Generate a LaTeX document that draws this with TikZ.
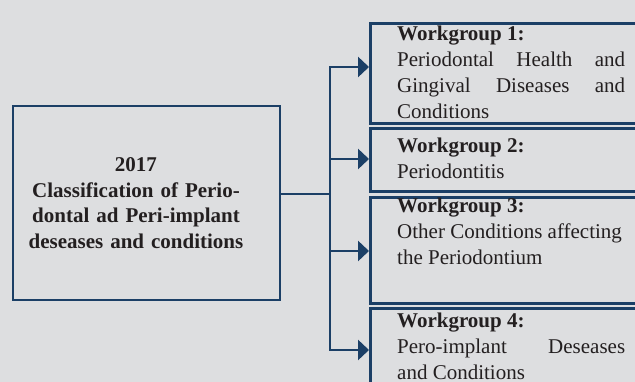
\documentclass[tikz,border=0pt]{standalone}
\usepackage{fontspec}
\setmainfont{Liberation Serif}
\usetikzlibrary{arrows.meta}
\definecolor{bg}{HTML}{DDDEE0}
\definecolor{navy}{HTML}{1B3F66}
\definecolor{ink}{HTML}{231F20}
\tikzset{
  box/.style={draw=navy, line width=2.6pt, rectangle, inner sep=0pt, anchor=north west},
  srcbox/.style={box, line width=2.2pt},
  conn/.style={draw=navy, line width=2.8pt},
  arr/.style={conn, -{Triangle[length=11pt,width=20pt]}},
  wtext/.style={text=ink, font=\fontsize{21}{26}\selectfont, text width=228pt, align=justify, inner sep=0pt, anchor=base west},
  ctext/.style={text=ink, font=\bfseries\fontsize{21}{25.5}\selectfont, text width=250pt, align=center, inner sep=0pt, anchor=base}
}
\begin{document}
\begin{tikzpicture}[x=1pt,y=-1pt]
\useasboundingbox (0,0) rectangle (635,382);
\fill[bg] (0,0) rectangle (635,382);
\begin{scope}
\clip (0,0) rectangle (635,382);
% source box
\node[srcbox, minimum width=267pt, minimum height=194pt] (src) at (12,105) {};
\node[ctext] (srct) at (136,172) {2017\\Classification of Perio-\\dontal ad Peri-implant\\deseases and conditions};
% workgroup boxes
\node[box, minimum width=290pt, minimum height=100pt] (w1) at (369,22) {};
\node[box, minimum width=290pt, minimum height=63pt] (w2) at (369,127) {};
\node[box, minimum width=290pt, minimum height=106pt] (w3) at (369,196) {};
\node[box, minimum width=290pt, minimum height=100pt] (w4) at (369,307) {};
\node[wtext] (w1t) at (397,41) {\textbf{Workgroup 1:}\newline Periodontal Health and\linebreak Gingival Diseases and\linebreak Conditions};
\node[wtext] (w2t) at (397,153) {\textbf{Workgroup 2:}\newline Periodontitis};
\node[wtext] (w3t) at (397,213) {\textbf{Workgroup 3:}\newline Other Conditions affecting\newline the Periodontium};
\node[wtext] (w4t) at (397,327) {\textbf{Workgroup 4:}\newline Pero-implant Deseases\linebreak and Conditions};
% connectors
\coordinate (j) at (330,194);
\coordinate (t1) at (369,67);
\coordinate (t2) at (369,159);
\coordinate (t3) at (369,251);
\coordinate (t4) at (369,350);
\draw[conn] (src.east |- j) -- (j);
\draw[conn, line cap=rect] (j |- t1) -- (j |- t4);
\draw[arr] (j |- t1) -- (t1);
\draw[arr] (j |- t2) -- (t2);
\draw[arr] (j |- t3) -- (t3);
\draw[arr] (j |- t4) -- (t4);
\end{scope}
\end{tikzpicture}
\end{document}
